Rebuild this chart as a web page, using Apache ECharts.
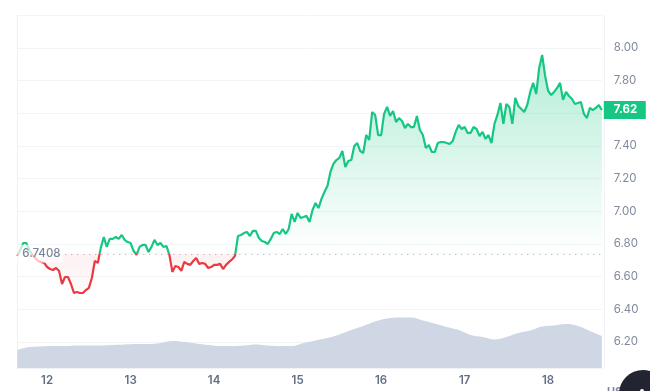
<!DOCTYPE html>
<html>
<head>
<meta charset="utf-8">
<script src="https://cdn.jsdelivr.net/npm/echarts@6/dist/echarts.min.js"></script>
<style>
  html, body { margin: 0; padding: 0; background: #fff; overflow: hidden; }
  #chart { width: 650px; height: 391px; }
</style>
</head>
<body>
<div id="chart"></div>
<script>
// price sampled 28 times a day, first sample is 10 steps before day 12
const prices = [
  6.727, 6.763, 6.806, 6.806, 6.763, 6.733, 6.714, 6.696, 6.690, 6.684,
  6.659, 6.647, 6.641, 6.653, 6.635, 6.555, 6.598, 6.598, 6.555, 6.500,
  6.506, 6.500, 6.500, 6.518, 6.531, 6.592, 6.696, 6.684, 6.776, 6.843,
  6.782, 6.831, 6.831, 6.843, 6.831, 6.855, 6.825, 6.812, 6.806, 6.757,
  6.733, 6.782, 6.794, 6.794, 6.751, 6.782, 6.825, 6.794, 6.806, 6.782,
  6.788, 6.733, 6.629, 6.665, 6.659, 6.635, 6.690, 6.678, 6.672, 6.696,
  6.714, 6.678, 6.684, 6.678, 6.653, 6.659, 6.672, 6.672, 6.678, 6.647,
  6.672, 6.690, 6.705, 6.727, 6.849, 6.855, 6.867, 6.874, 6.849, 6.880,
  6.880, 6.837, 6.818, 6.812, 6.800, 6.831, 6.867, 6.874, 6.861, 6.892,
  6.861, 6.892, 6.984, 6.935, 6.990, 6.959, 6.965, 6.972, 6.935, 7.008,
  7.051, 7.020, 7.076, 7.118, 7.155, 7.241, 7.290, 7.314, 7.327, 7.369,
  7.271, 7.308, 7.314, 7.400, 7.418, 7.369, 7.357, 7.467, 7.437, 7.608,
  7.590, 7.467, 7.467, 7.596, 7.639, 7.584, 7.614, 7.547, 7.571, 7.553,
  7.510, 7.535, 7.516, 7.516, 7.584, 7.498, 7.467, 7.388, 7.406, 7.363,
  7.363, 7.418, 7.424, 7.424, 7.418, 7.412, 7.430, 7.486, 7.529, 7.504,
  7.516, 7.480, 7.480, 7.516, 7.504, 7.461, 7.486, 7.443, 7.467, 7.418,
  7.535, 7.590, 7.663, 7.535, 7.657, 7.639, 7.535, 7.694, 7.645, 7.626,
  7.608, 7.651, 7.731, 7.786, 7.718, 7.878, 7.957, 7.829, 7.737, 7.712,
  7.731, 7.755, 7.786, 7.682, 7.731, 7.706, 7.688, 7.657, 7.663, 7.669,
  7.596, 7.571, 7.633, 7.620, 7.633, 7.651, 7.620
];
// volume sampled 7 times a day over the same span
const volumes = [
  18, 21, 21.5, 22, 22, 22.5, 22.5, 22.5, 23, 23.5,
  24, 24, 25, 27, 26, 24.5, 23, 22, 22, 22.5,
  23.5, 22.5, 22, 22, 25, 27.5, 30, 33.5, 38, 42,
  46.5, 49.5, 50.5, 50.5, 47.5, 44.5, 41, 38, 33, 31,
  28.5, 31, 35, 37.5, 41.5, 42.5, 44, 42, 37, 32
];
const dayLabels = ['12', '13', '14', '15', '16', '17', '18'];
const priceTicks = { min: 6.2, max: 8.2, step: 0.2 };
const openPrice = 6.7408;
const lastPrice = 7.62;

const GREEN = '#16c784';
const RED = '#ea3943';
const FONT = 'Inter, "Noto Sans", sans-serif';

// only the samples that sit on midnight get a label
const categories = prices.map((p, i) => (i - 10) % 28 === 0 ? (dayLabels[(i - 10) / 28] || '') : '');
const volumeCategories = volumes.map((v, i) => String(i));

const chart = echarts.init(document.getElementById('chart'), null, { renderer: 'canvas' });

chart.setOption({
  animation: false,
  backgroundColor: '#fff',
  textStyle: { fontFamily: FONT },
  grid: [
    { left: 17.3, right: 48.2, top: 15.3, bottom: 49 },
    { left: 17.3, right: 48.2, top: 15.3, bottom: 23 }
  ],
  xAxis: [
    {
      type: 'category', gridIndex: 0, data: categories, boundaryGap: false,
      axisLine: { show: false }, axisTick: { show: false },
      axisLabel: {
        margin: 33, interval: (i) => (i - 10) % 28 === 0,
        color: '#616e85', fontSize: 11.5, fontWeight: 600, fontFamily: FONT
      }
    },
    {
      type: 'category', gridIndex: 1, data: volumeCategories, boundaryGap: false,
      axisLine: { show: true, lineStyle: { color: '#f1f2f5' } },
      axisTick: { show: false }, axisLabel: { show: false }
    }
  ],
  yAxis: [
    {
      type: 'value', gridIndex: 0, position: 'right',
      min: priceTicks.min, max: priceTicks.max, interval: priceTicks.step,
      axisLine: { show: false }, axisTick: { show: false },
      splitLine: { lineStyle: { color: '#f3f4f6', width: 1 } },
      axisLabel: {
        margin: 12, showMaxLabel: false, color: '#808a9d', fontSize: 11.5, fontFamily: FONT,
        formatter: (v) => v.toFixed(2)
      }
    },
    {
      type: 'value', gridIndex: 1, position: 'right', offset: 2.2, min: 0, max: 353,
      axisLine: { show: true, lineStyle: { color: '#eff1f4' } },
      axisTick: { show: false }, axisLabel: { show: false }, splitLine: { show: false }
    },
    {
      type: 'value', gridIndex: 1, position: 'left', min: 0, max: 353,
      axisLine: { show: true, lineStyle: { color: '#eff1f4' } },
      axisTick: { show: false }, axisLabel: { show: false }, splitLine: { show: false }
    }
  ],
  visualMap: {
    show: false, seriesIndex: 1, dimension: 1,
    // 两段都要有上下界，否则折线渐变没有色标
    pieces: [
      { gt: 0, lte: openPrice, color: RED },
      { gt: openPrice, lte: 100, color: GREEN }
    ]
  },
  series: [
    {
      name: 'volume', type: 'line', xAxisIndex: 1, yAxisIndex: 1, data: volumes,
      showSymbol: false, z: 1, smooth: 0.4,
      lineStyle: { width: 0 },
      itemStyle: { color: '#cfd6e4' },
      areaStyle: { color: '#cfd6e4', opacity: 1 }
    },
    {
      name: 'price', type: 'line', xAxisIndex: 0, yAxisIndex: 0, data: prices,
      showSymbol: false, z: 3,
      lineStyle: { width: 2.2 },
      areaStyle: {
        origin: openPrice,
        opacity: 1,
        // 折线上方绿色，下方红色，都在基准线处淡出
        color: new echarts.graphic.LinearGradient(0, 55, 0, 296, [
          { offset: 0, color: 'rgba(22,199,132,0.32)' },
          { offset: 0.82, color: 'rgba(22,199,132,0.0)' },
          { offset: 0.825, color: 'rgba(234,57,67,0.075)' },
          { offset: 1, color: 'rgba(234,57,67,0.01)' }
        ], true)
      },
      endLabel: {
        show: true, distance: 2, formatter: () => lastPrice.toFixed(2),
        color: '#fff', fontSize: 11.5, fontWeight: 700, fontFamily: FONT,
        backgroundColor: GREEN, padding: [3, 10, 3, 10], lineHeight: 12, width: 22, align: 'left'
      },
      markLine: {
        silent: true, symbol: 'none', animation: false,
        label: { show: false },
        lineStyle: { color: '#a6acbd', type: [1, 5], width: 1 },
        data: [{ yAxis: openPrice }]
      }
    },
    {
      // 基准价标签，半透明白底盖住折线
      name: 'open', type: 'scatter', xAxisIndex: 0, yAxisIndex: 0, z: 5,
      data: [[0, openPrice]],
      symbolSize: 0,
      label: {
        show: true, position: 'right', distance: 0,
        formatter: () => String(openPrice),
        color: '#58667e', fontSize: 11.5, fontWeight: 500, fontFamily: FONT,
        backgroundColor: 'rgba(255,255,255,0.88)', padding: [3, 3, 3, 5]
      }
    }
  ],
  graphic: [
    {
      type: 'text', left: 607, top: 386, z: 10,
      style: { text: 'USD', fill: '#808a9d', font: '700 11px Inter, sans-serif' }
    },
    {
      type: 'circle', shape: { cx: 643, cy: 394, r: 24 }, z: 11,
      style: { fill: '#222531' }
    },
    {
      type: 'circle', shape: { cx: 642, cy: 391, r: 2 }, z: 12,
      style: { fill: '#fff' }
    }
  ]
});
</script>
</body>
</html>
